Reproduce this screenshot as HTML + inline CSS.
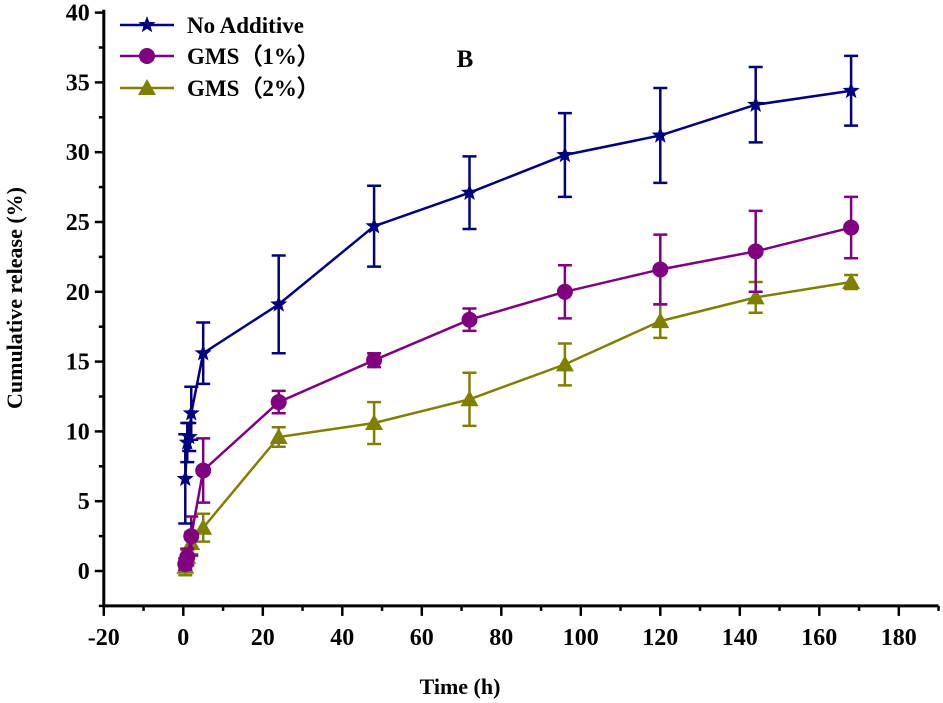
<!DOCTYPE html>
<html><head><meta charset="utf-8"><style>
html,body{margin:0;padding:0;background:#fff;}
svg{display:block;}
svg text{font-family:"Liberation Serif","DejaVu Serif",serif !important;font-weight:bold;fill:#000;}
</style></head><body>
<svg id="chart" width="943" height="703" font-family="Liberation Serif, DejaVu Serif, serif">
<g id="axes"></g>
<g id="series"></g>
<g id="legend"></g>
<text x="465" y="67" font-size="25" text-anchor="middle">B</text>
<text x="460" y="694" font-size="22" text-anchor="middle">Time (h)</text>
<text transform="translate(22,298) rotate(-90)" font-size="22" text-anchor="middle">Cumulative release (%)</text>
</svg>
<script>
const xTicks=[-20,0,20,40,60,80,100,120,140,160,180];
const yTicks=[0,5,10,15,20,25,30,35,40];
const seriesNames=["No Additive","GMS（1%）","GMS（2%）"];
const timesA=[0.5,1,1.5,2,5,24,48,72,96,120,144,168];
const valuesA=[6.6,9.2,9.6,11.3,15.6,19.1,24.7,27.1,29.8,31.2,33.4,34.4];
const errorsA=[3.2,1.4,1.0,1.9,2.2,3.5,2.9,2.6,3.0,3.4,2.7,2.5];
const timesB=[0.5,1,2,5,24,48,72,96,120,144,168];
const valuesB=[0.5,1.0,2.5,7.2,12.1,15.1,18.0,20.0,21.6,22.9,24.6];
const errorsB=[0.4,0.6,1.4,2.3,0.8,0.5,0.8,1.9,2.5,2.9,2.2];
const timesC=[0.5,1,2,5,24,48,72,96,120,144,168];
const valuesC=[0.3,1.0,2.0,3.1,9.6,10.6,12.3,14.8,17.9,19.6,20.7];
const errorsC=[0.6,0.5,0.8,1.0,0.7,1.5,1.9,1.5,1.2,1.1,0.5];

const NS="http://www.w3.org/2000/svg";
const FONT="Liberation Serif, DejaVu Serif, serif";
const X0=183.3, XS=3.975, Y0=571, YS=13.96;
const xs=v=>X0+v*XS, ys=v=>Y0-v*YS;
function mk(tag,attrs,parent){const e=document.createElementNS(NS,tag);for(const k in attrs)e.setAttribute(k,attrs[k]);parent.appendChild(e);return e;}
const axes=document.getElementById('axes');
const L=xs(-20), R=xs(190), T=ys(40.2), B=ys(-2.5);
let e=mk('line',{x1:L,y1:T,x2:L,y2:B,stroke:'#000','stroke-width':3},axes);


e=mk('line',{x1:L-1.5,y1:B,x2:R,y2:B,stroke:'#000','stroke-width':3},axes);


for(let v=-2.5;v<=40;v+=2.5){const major=Math.abs(v%5)<1e-6;
 mk('line',{x1:L-(major?9:5),y1:ys(v),x2:L,y2:ys(v),stroke:'#000','stroke-width':2.5},axes);}
yTicks.forEach(v=>{e=mk('text',{x:L-14,y:ys(v)+8,'font-size':24,'font-family':FONT,'font-weight':'bold','text-anchor':'end'},axes);e.textContent=v;
 
 });
for(let v=-20;v<=190;v+=10){const major=v%20===0;
 mk('line',{x1:xs(v),y1:B,x2:xs(v),y2:B+(major?10:5),stroke:'#000','stroke-width':2.5},axes);}
xTicks.forEach(v=>{e=mk('text',{x:xs(v),y:B+39,'font-size':24,'font-family':FONT,'font-weight':'bold','text-anchor':'middle'},axes);e.textContent=v;
 
 });

function star(cx,cy,r){let p=[];for(let i=0;i<10;i++){const a=-Math.PI/2+i*Math.PI/5;const rr=i%2?r*0.42:r;p.push((cx+rr*Math.cos(a)).toFixed(1)+','+(cy+rr*Math.sin(a)).toFixed(1));}return p.join(' ');}
function marker(g,type,cx,cy,color){
 if(type==='star')return mk('polygon',{points:star(cx,cy,9),fill:color},g);
 if(type==='circle')return mk('circle',{cx:cx,cy:cy,r:8,fill:color},g);
 return mk('polygon',{points:`${cx},${cy-9} ${cx+9},${cy+7} ${cx-9},${cy+7}`,fill:color},g);}
const sg=document.getElementById('series');
const defs=[[timesC,valuesC,errorsC,'#808000','tri','series-gms-2'],[timesB,valuesB,errorsB,'#800080','circle','series-gms-1'],[timesA,valuesA,errorsA,'#000080','star','series-no-additive']];
defs.forEach(([t,v,er,c,m,name])=>{
 const g=mk('g',{},sg);
 
 
 const pl=mk('polyline',{points:t.map((ti,i)=>xs(ti)+','+ys(v[i])).join(' '),fill:'none',stroke:c,'stroke-width':2.5},g);
 
 
 t.forEach((ti,i)=>{const x=xs(ti),y1=ys(v[i]+er[i]),y2=ys(v[i]-er[i]);
  const eb=mk('path',{d:`M${x},${y1}V${y2}M${x-7},${y1}H${x+7}M${x-7},${y2}H${x+7}`,stroke:c,'stroke-width':2.5,fill:'none'},g);
  
  
  const mm=marker(g,m,x,ys(v[i]),c);
  
  });
});
const lg=document.getElementById('legend');


const lcols=['#000080','#800080','#808000'],lm=['star','circle','tri'],ly=[25,56,88];
seriesNames.forEach((n,i)=>{
 const g=mk('g',{},lg);
 
 
 mk('line',{x1:120,y1:ly[i],x2:174,y2:ly[i],stroke:lcols[i],'stroke-width':2.5},g);
 marker(g,lm[i],147,ly[i],lcols[i]);
 const t=mk('text',{x:187,y:ly[i]+8,'font-size':23,'font-family':FONT+', Noto Serif CJK SC','font-weight':'bold'},g);t.textContent=n;
});
</script>
</body></html>
